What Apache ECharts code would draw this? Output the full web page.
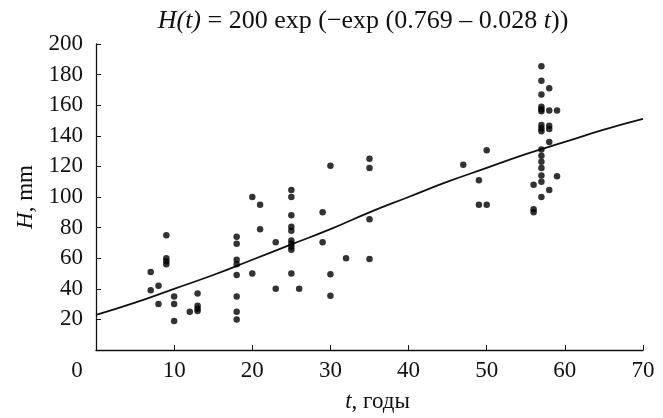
<!DOCTYPE html>
<html>
<head>
<meta charset="utf-8">
<script src="https://cdn.jsdelivr.net/npm/echarts@6/dist/echarts.min.js"></script>
<style>html,body{margin:0;padding:0;background:#fff}#c{width:663px;height:418px}</style>
</head>
<body>
<div id="c"></div>
<script>
const observed = [
  [7,51],[7,39],
  [8,42],[8,30],
  [9,75],[9,60],[9,58],[9,56],
  [10,35],[10,30],[10,19],
  [12,25],
  [13,37],[13,29],[13,27],[13,25.5],
  [18,74],[18,69.5],[18,59],[18,56],[18,49],[18,35],[18,25],[18,20],
  [20,100],[20,50],
  [21,95],[21,79],
  [23,70.5],[23,40],
  [25,104.5],[25,100],[25,88],[25,80.5],[25,78],[25,71.5],[25,69.5],[25,67.5],[25,65.5],[25,50],
  [26,40],
  [29,90],[29,70.5],
  [30,120.5],[30,49.5],[30,35.5],
  [32,60],
  [35,125],[35,119],[35,85.5],[35,59.5],
  [47,121],
  [49,111],[49,95],
  [50,130.5],[50,95],
  [56,108],[56,92],[56,90],
  [57,185.5],[57,176],[57,167],[57,159],[57,157.4],[57,156],[57,147],[57,145],[57,143],
  [57,131],[57,127],[57,123],[57,119],[57,114],[57,110],[57,100],
  [58,171],[58,156.5],[58,146.5],[58,144.5],[58,136],[58,104.5],
  [59,156.5],[59,113.5]
];
// Fitted curve
const fitT = [0,5,10,15,20,25,30,35,40,45,50,55,60,65,70];
const fitH = [23,31,40,49,59,69,79,90,100,110,119,128,136,144,151];

const titleText = '{i|H(t)} = 200 exp (\u2212exp (0.769 \u2013 0.028 {i|t}))';
const xName = '{i|t}, годы';
const yName = '{i|H}, mm';

const FONT = 'Liberation Serif';
const INK = '#111';

const chart = echarts.init(document.getElementById('c'));
chart.setOption({
  animation: false,
  backgroundColor: '#fff',
  title: {
    text: titleText,
    left: 358, top: 3, textAlign: 'center',
    textStyle: {
      fontFamily: FONT, fontSize: 26, fontWeight: 'normal', color: INK,
      rich: { i: { fontFamily: FONT, fontSize: 26, fontStyle: 'italic', color: INK } }
    }
  },
  grid: { left: 96, right: 20, top: 44, bottom: 64 },
  xAxis: {
    type: 'value', min: 0, max: 70, interval: 10,
    name: xName, nameLocation: 'middle', nameGap: 40,
    nameTextStyle: {
      fontFamily: FONT, fontSize: 23, color: INK, padding: [0, 0, 0, 16],
      rich: { i: { fontFamily: FONT, fontSize: 23, fontStyle: 'italic', color: INK } }
    },
    axisLine: { show: true, lineStyle: { color: INK, width: 1.3 } },
    axisTick: { show: true, inside: true, length: 5, lineStyle: { color: INK } },
    splitLine: { show: false },
    axisLabel: {
      fontFamily: FONT, fontSize: 23, color: INK, margin: 9,
      formatter: v => v === 0 ? '{z|0}' : String(v),
      rich: { z: { fontFamily: FONT, fontSize: 23, color: INK, padding: [0, 38, 0, 0] } }
    }
  },
  yAxis: {
    type: 'value', min: 0, max: 200, interval: 20,
    name: yName, nameLocation: 'middle', nameGap: 56,
    nameTextStyle: {
      fontFamily: FONT, fontSize: 23, color: INK,
      rich: { i: { fontFamily: FONT, fontSize: 23, fontStyle: 'italic', color: INK } }
    },
    axisLine: { show: true, lineStyle: { color: INK, width: 1.3 } },
    axisTick: { show: true, inside: true, length: 5, lineStyle: { color: INK } },
    splitLine: { show: false },
    axisLabel: {
      fontFamily: FONT, fontSize: 23, color: INK, margin: 13,
      formatter: v => v === 0 ? '' : String(v)
    }
  },
  series: [
    {
      type: 'line', data: fitT.map((t, i) => [t, fitH[i]]),
      smooth: true, showSymbol: false, symbol: 'none',
      lineStyle: { color: INK, width: 1.8 }, z: 2
    },
    {
      type: 'scatter', data: observed, symbol: 'circle', symbolSize: 6.5,
      itemStyle: { color: '#000' }, z: 3
    }
  ]
});
</script>
</body>
</html>
